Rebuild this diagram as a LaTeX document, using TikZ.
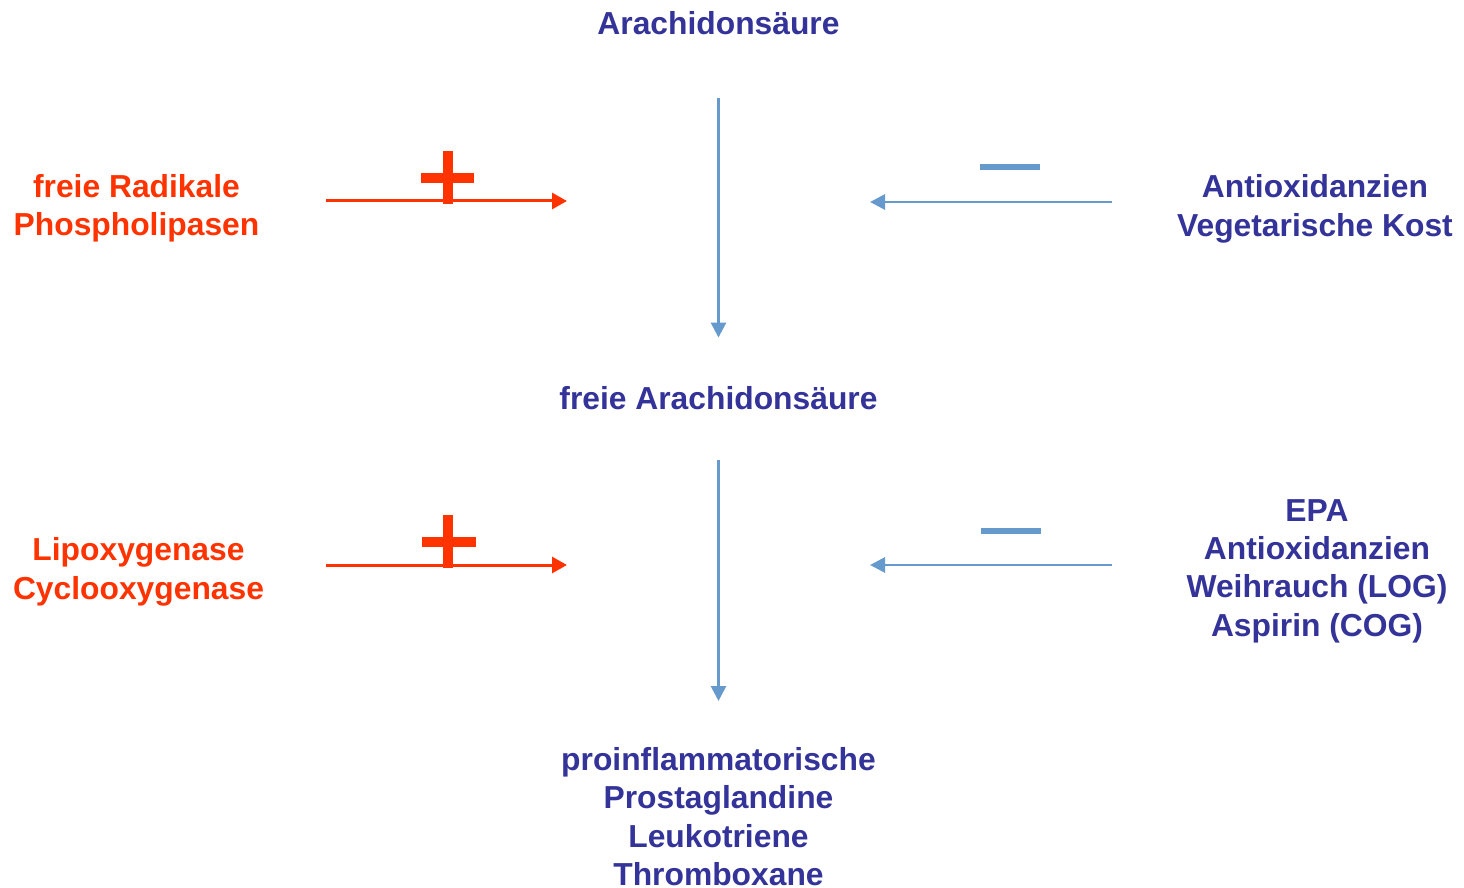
\documentclass[tikz,border=0pt]{standalone}
\usepackage{fontspec}
\setmainfont{Liberation Sans}
\usetikzlibrary{arrows.meta}
\definecolor{hemmrot}{HTML}{FF3300}
\definecolor{textblau}{HTML}{333399}
\definecolor{pfeilblau}{HTML}{6699CC}

\begin{document}
\begin{tikzpicture}[x=0.5pt, y=-0.5pt,
    stoff/.style={font=\bfseries\fontsize{15.9}{19.2}\selectfont, text=textblau, align=center, inner sep=0pt},
    foerder/.style={stoff, text=hemmrot},
    fluss/.style={-{Triangle[length=7.5pt,width=7.5pt]}, line width=1.4pt, pfeilblau},
    aktiv/.style={-{Triangle[length=7.5pt,width=8pt]}, line width=1.5pt, hemmrot}]
    \useasboundingbox (0,0) rectangle (1464,888);

    % Stoffwechselkette in der Mitte
    \node [stoff, anchor=base] (arach) at (718.5, 35) {Arachidonsäure};
    \node [stoff, anchor=base] (freie) at (718.5, 409) {freie Arachidonsäure};
    \node [stoff, anchor=north] (produkte) at (718.5, 747) {proinflammatorische\\Prostaglandine\\Leukotriene\\Thromboxane};
    \draw [fluss, shorten <=31pt, shorten >=24pt] (arach) -- (freie);
    \draw [fluss, shorten <=25pt, shorten >=23pt] (freie) -- (produkte);

    % Einfluesse links und rechts
    \node [foerder] (radikale) at (136.5, 208) {freie Radikale\\Phospholipasen};
    \node [stoff] (antiox) at (1315, 209) {Antioxidanzien\\Vegetarische Kost};
    \node [foerder] (enzyme) at (138.5, 572) {Lipoxygenase\\Cyclooxygenase};
    \node [stoff] (hemmer) at (1317, 571) {EPA\\Antioxidanzien\\Weihrauch (LOG)\\Aspirin (COG)};

    \coordinate (ra) at (326, 201);
    \coordinate (re) at (567, 201);
    \coordinate (aa) at (1112, 202);
    \coordinate (ae) at (870, 202);
    \coordinate (ea) at (326, 565);
    \coordinate (ee) at (567, 565);
    \coordinate (ha) at (1112, 565);
    \coordinate (he) at (870, 565);
    \draw [aktiv] (ra) -- (re);
    \draw [fluss] (aa) -- (ae);
    \draw [aktiv] (ea) -- (ee);
    \draw [fluss] (ha) -- (he);

    % Plus und Minus
    \fill [hemmrot] (421, 173) rectangle (474, 183);
    \fill [hemmrot] (443, 151) rectangle (453, 204);
    \fill [hemmrot] (422, 537) rectangle (476, 547);
    \fill [hemmrot] (443, 515) rectangle (453, 568);
    \fill [pfeilblau] (980, 164) rectangle (1040, 170);
    \fill [pfeilblau] (981, 528) rectangle (1041, 534);
\end{tikzpicture}
\end{document}
